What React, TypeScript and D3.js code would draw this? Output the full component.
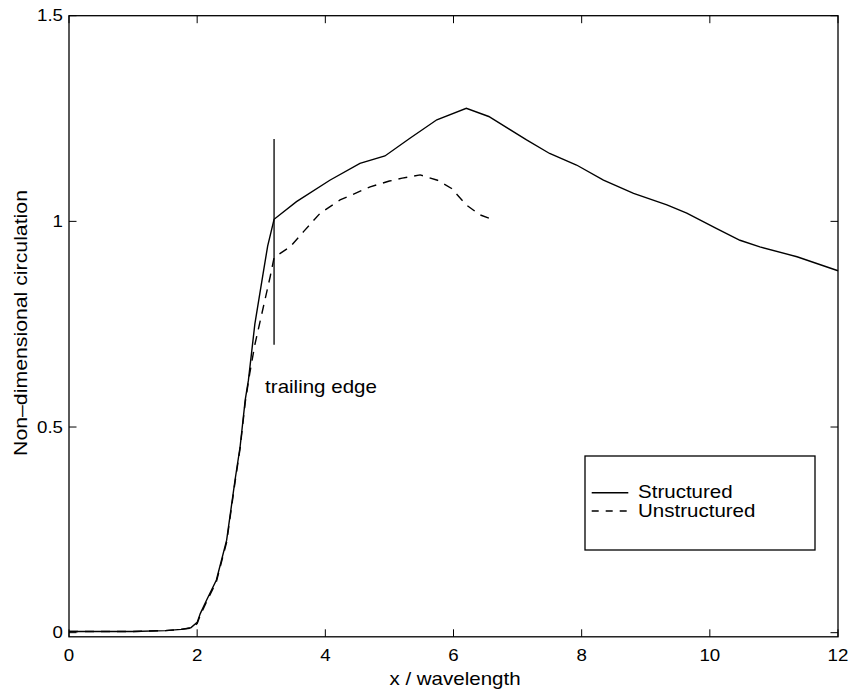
import React from "react";
import * as d3 from "d3";

const structuredX = [0, 0.5, 1.0, 1.5, 1.75, 1.9, 2.0, 2.05, 2.15, 2.3, 2.46, 2.59, 2.67, 2.75, 2.8, 2.9, 3.03, 3.1, 3.2, 3.55, 4.07, 4.54, 4.93, 5.32, 5.74, 6.2, 6.55, 7.14, 7.5, 7.92, 8.34, 8.81, 9.33, 9.64, 10.1, 10.47, 10.78, 11.36, 12.0];
const structuredY = [0.003, 0.003, 0.003, 0.005, 0.008, 0.012, 0.025, 0.047, 0.08, 0.128, 0.225, 0.37, 0.452, 0.566, 0.614, 0.75, 0.874, 0.94, 1.005, 1.048, 1.10, 1.141, 1.159, 1.202, 1.247, 1.275, 1.255, 1.198, 1.165, 1.137, 1.10, 1.068, 1.04, 1.02, 0.983, 0.954, 0.938, 0.914, 0.88];

const unstructuredX = [0, 0.5, 1.0, 1.5, 1.75, 1.9, 2.0, 2.05, 2.15, 2.3, 2.46, 2.59, 2.67, 2.75, 2.82, 2.9, 3.03, 3.14, 3.2, 3.45, 3.66, 3.92, 4.23, 4.7, 5.0, 5.2, 5.48, 5.75, 5.97, 6.2, 6.41, 6.57];
const unstructuredY = [0.003, 0.003, 0.003, 0.005, 0.008, 0.011, 0.022, 0.043, 0.076, 0.124, 0.22, 0.365, 0.448, 0.56, 0.63, 0.7, 0.79, 0.866, 0.912, 0.938, 0.975, 1.02, 1.052, 1.084, 1.098, 1.105, 1.113, 1.10, 1.08, 1.04, 1.016, 1.007];

const xTicks = [0, 2, 4, 6, 8, 10, 12];
const yTicks = [0, 0.5, 1, 1.5];
const yTickLabels = ["0", "0.5", "1", "1.5"];
const trailingEdgeX = 3.2;
const trailingEdgeRange = [0.7, 1.2];
const annotation = { text: "trailing edge", x: 3.06, y: 0.583 };
const seriesNames = ["Structured", "Unstructured"];

const W = 854, H = 696;
const L = 69, R = 838, T = 15.7, B = 636.8;
const FONT = "'Liberation Sans', Arial, Helvetica, sans-serif";

export default function App() {
  const x = d3.scaleLinear().domain([0, 12]).range([L, R]);
  const y = d3.scaleLinear().domain([-0.01, 1.5]).range([B, T]);
  const line = d3.line<[number, number]>().x(d => x(d[0])).y(d => y(d[1]));
  const sData: [number, number][] = structuredX.map((v, i) => [v, structuredY[i]]);
  const uData: [number, number][] = unstructuredX.map((v, i) => [v, unstructuredY[i]]);
  const tl = 7.5;
  const lgX = 585, lgY = 456, lgW = 230, lgH = 94;

  return (
    <svg width={W} height={H} style={{ position: "absolute", left: 0, top: 0, background: "#fff" }} fontFamily={FONT}>
      <rect x={0} y={0} width={W} height={H} fill="#fff" />
      {/* ticks */}
      {xTicks.map(t => (
        <g key={"xt" + t}>
          <line x1={x(t)} x2={x(t)} y1={B} y2={B - tl} stroke="#000" strokeWidth={1} />
          <line x1={x(t)} x2={x(t)} y1={T} y2={T + tl} stroke="#000" strokeWidth={1} />
          <text transform={`translate(${x(t)},660.7) scale(1.17,1)`} textAnchor="middle" fontSize={16} fill="#000">{t}</text>
        </g>
      ))}
      {yTicks.map((t, i) => (
        <g key={"yt" + t}>
          <line x1={L} x2={L + tl} y1={y(t)} y2={y(t)} stroke="#000" strokeWidth={1} />
          <line x1={R} x2={R - tl} y1={y(t)} y2={y(t)} stroke="#000" strokeWidth={1} />
          <text transform={`translate(63,${y(t) + 5.7}) scale(1.17,1)`} textAnchor="end" fontSize={16} fill="#000">{yTickLabels[i]}</text>
        </g>
      ))}
      {/* frame */}
      <rect x={L} y={T} width={R - L} height={B - T} fill="none" stroke="#000" strokeWidth={1.3} />
      {/* curves */}
      <path d={line(sData) || ""} fill="none" stroke="#000" strokeWidth={1.4} />
      <path d={line(uData) || ""} fill="none" stroke="#000" strokeWidth={1.4} strokeDasharray="9,7" />
      {/* trailing edge */}
      <line x1={x(trailingEdgeX)} x2={x(trailingEdgeX)} y1={y(trailingEdgeRange[0])} y2={y(trailingEdgeRange[1])} stroke="#000" strokeWidth={1.3} />
      <text transform={`translate(${x(annotation.x)},${y(annotation.y)}) scale(1.14,1)`} fontSize={18} fill="#000">{annotation.text}</text>
      {/* axis labels */}
      <text transform={`translate(455,685) scale(1.14,1)`} textAnchor="middle" fontSize={18} fill="#000">x / wavelength</text>
      <text transform={`translate(27,323) rotate(-90) scale(1.12,1)`} textAnchor="middle" fontSize={19} fill="#000">Non–dimensional circulation</text>
      {/* legend */}
      <rect x={lgX} y={lgY} width={lgW} height={lgH} fill="#fff" stroke="#000" strokeWidth={1.3} />
      <line x1={591.7} x2={628.3} y1={492.7} y2={492.7} stroke="#000" strokeWidth={1.4} />
      <line x1={591.7} x2={628.3} y1={511} y2={511} stroke="#000" strokeWidth={1.4} strokeDasharray="7,7" />
      <text transform={`translate(638,497.5) scale(1.14,1)`} fontSize={18} fill="#000">{seriesNames[0]}</text>
      <text transform={`translate(638,516.5) scale(1.14,1)`} fontSize={18} fill="#000">{seriesNames[1]}</text>
    </svg>
  );
}
